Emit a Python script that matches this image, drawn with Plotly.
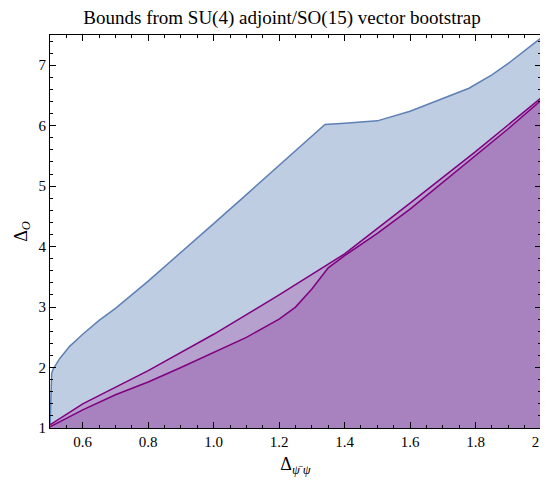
import plotly.graph_objects as go

upper_x = [0.5, 0.502, 0.505, 0.51, 0.53, 0.56, 0.6, 0.65, 0.7, 0.8, 0.9, 1.0, 1.1, 1.2, 1.3, 1.34, 1.4, 1.5, 1.6, 1.7, 1.78, 1.85, 1.9, 2.0]
upper_y = [1.0, 1.5, 1.9, 1.98, 2.15, 2.35, 2.55, 2.78, 2.98, 3.43, 3.9, 4.38, 4.86, 5.34, 5.82, 6.02, 6.04, 6.08, 6.24, 6.45, 6.62, 6.84, 7.03, 7.45]
mid_x = [0.5, 0.6, 0.8, 1.0, 1.2, 1.4, 1.6, 1.8, 2.0]
mid_y = [1.05, 1.4, 1.95, 2.55, 3.2, 3.88, 4.72, 5.57, 6.46]
low_x = [0.5, 0.6, 0.7, 0.8, 0.9, 1.0, 1.1, 1.2, 1.25, 1.3, 1.35, 1.4, 1.5, 1.6, 1.7, 1.8, 1.9, 2.0]
low_y = [1.02, 1.3, 1.55, 1.76, 2.0, 2.25, 2.5, 2.8, 3.0, 3.3, 3.65, 3.85, 4.22, 4.62, 5.06, 5.5, 5.95, 6.42]

fig = go.Figure()
fig.add_trace(go.Scatter(x=upper_x, y=upper_y, fill='tozeroy', fillcolor='rgb(190,205,225)',
                         line=dict(color='rgb(94,129,181)', width=1.5), mode='lines'))
fig.add_trace(go.Scatter(x=mid_x, y=mid_y, fill='tozeroy', fillcolor='rgb(182,160,205)',
                         line=dict(color='rgb(128,0,128)', width=1.5), mode='lines'))
fig.add_trace(go.Scatter(x=low_x, y=low_y, fill='tozeroy', fillcolor='rgb(167,130,190)',
                         line=dict(color='rgb(128,0,128)', width=1.5), mode='lines'))

ax = dict(showline=True, mirror='allticks', linecolor='black', linewidth=1, ticks='inside',
          ticklen=6, tickcolor='black', showgrid=False, zeroline=False, automargin=False,
          minor=dict(ticks='inside', ticklen=3, tickcolor='black'))
fig.update_layout(
    width=548, height=482, plot_bgcolor='white', paper_bgcolor='white', showlegend=False,
    font=dict(family='Liberation Serif', size=15, color='black'),
    title=dict(text='Bounds from SU(4) adjoint/SO(15) vector bootstrap', x=0.5, xanchor='center',
               y=0.995, yanchor='top', font=dict(size=19)),
    margin=dict(l=42, r=15, t=27, b=62),
    xaxis=dict(range=[0.5, 2.0], dtick=0.2, tick0=0.4, tickformat='.1f',
               title=dict(text='Δ<sub><i>ψ̄ ψ</i></sub>', standoff=8), **ax),
    yaxis=dict(range=[1, 7.5], dtick=1, title=dict(text='Δ<sub><i>O</i></sub>', standoff=6), **ax),
)
fig.write_html('out.html')
